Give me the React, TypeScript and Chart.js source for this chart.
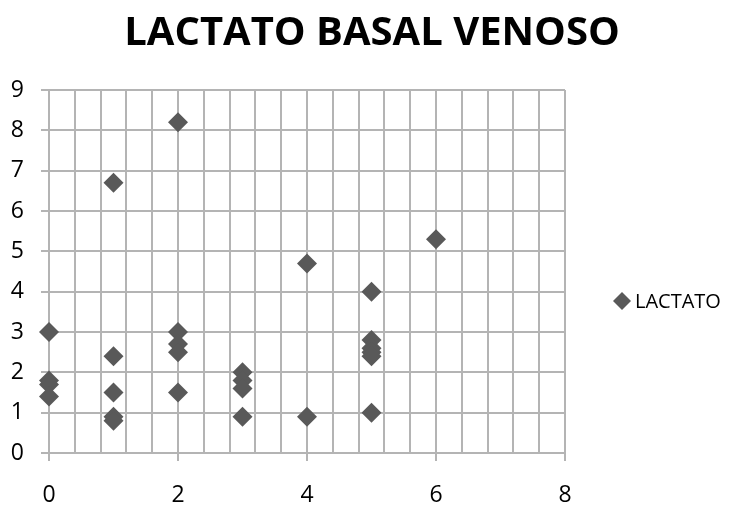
import React, { useEffect, useRef } from "react";
import { Chart, registerables } from "chart.js";

Chart.register(...registerables);

// Lactato basal venoso: one point per patient
const groupValues: number[] = [0, 0, 0, 0, 1, 1, 1, 1, 1, 2, 2, 2, 2, 2, 3, 3, 3, 3, 4, 4, 5, 5, 5, 5, 5, 5, 6];
const lactatoValues: number[] = [3.0, 1.8, 1.7, 1.4, 6.7, 2.4, 1.5, 0.9, 0.8, 8.2, 3.0, 2.7, 2.5, 1.5, 2.0, 1.8, 1.6, 0.9, 4.7, 0.9, 4.0, 2.8, 2.6, 2.5, 2.4, 1.0, 5.3];

const chartTitle = "LACTATO BASAL VENOSO";
const seriesName = "LACTATO";

const xMin = 0;
const xMax = 8;
const xGridStep = 0.4;
const xLabelStep = 2;
const yMin = 0;
const yMax = 9;
const yStep = 1;

const FONT = "'Open Sans', 'Liberation Sans', sans-serif";
const MARKER = "#595959";
const GRID = "#b4b4b4";

const isLabelled = (v: number) => Math.abs(v / xLabelStep - Math.round(v / xLabelStep)) < 1e-6;

function drawDiamond(ctx: CanvasRenderingContext2D, x: number, y: number, r: number) {
  ctx.beginPath();
  ctx.moveTo(x, y - r);
  ctx.lineTo(x + r, y);
  ctx.lineTo(x, y + r);
  ctx.lineTo(x - r, y);
  ctx.closePath();
  ctx.fill();
}

const decorations = {
  id: "decorations",
  afterDraw(chart: Chart) {
    const ctx = chart.ctx;
    ctx.save();
    // title
    ctx.fillStyle = "#000000";
    ctx.font = `bold 40px ${FONT}`;
    ctx.textAlign = "center";
    ctx.textBaseline = "alphabetic";
    ctx.fillText(chartTitle, 372, 45);
    // legend
    ctx.fillStyle = MARKER;
    drawDiamond(ctx, 622, 301, 9);
    ctx.fillStyle = "#000000";
    ctx.font = `20px ${FONT}`;
    ctx.textAlign = "left";
    ctx.fillText(seriesName, 635, 308);
    ctx.restore();
  },
};

export default function App() {
  const ref = useRef<HTMLCanvasElement | null>(null);

  useEffect(() => {
    if (!ref.current) return;
    const points = groupValues.map((x, i) => ({ x, y: lactatoValues[i] }));
    const chart = new Chart(ref.current, {
      type: "scatter",
      data: {
        datasets: [
          {
            label: seriesName,
            data: points,
            pointStyle: "rectRot",
            pointRadius: 10,
            pointHoverRadius: 10,
            backgroundColor: MARKER,
            borderColor: MARKER,
            borderWidth: 0,
            clip: false,
          },
        ],
      },
      options: {
        responsive: false,
        animation: false,
        events: [],
        layout: { padding: { top: 90, left: 0, right: 170, bottom: 0 } },
        plugins: {
          legend: { display: false },
          title: { display: false },
          tooltip: { enabled: false },
        },
        scales: {
          x: {
            type: "linear",
            min: xMin,
            max: xMax,
            afterFit(scale: any) {
              scale.height = 55;
            },
            ticks: {
              stepSize: xGridStep,
              autoSkip: false,
              maxRotation: 0,
              padding: 21,
              color: "#000000",
              font: { family: FONT, size: 23 },
              callback: (v: any) => (isLabelled(Number(v)) ? String(Math.round(Number(v))) : ""),
            },
            grid: {
              color: GRID,
              lineWidth: 2,
              tickLength: 8,
              tickColor: (c: any) => (c.tick && isLabelled(c.tick.value) ? GRID : "rgba(0,0,0,0)"),
            },
            border: { color: GRID, width: 2 },
          },
          y: {
            type: "linear",
            min: yMin,
            max: yMax,
            afterFit(scale: any) {
              scale.width = 49;
            },
            ticks: {
              stepSize: yStep,
              padding: 17,
              color: "#000000",
              font: { family: FONT, size: 23 },
            },
            grid: { color: GRID, lineWidth: 2, tickLength: 8, tickColor: GRID },
            border: { color: GRID, width: 2 },
          },
        },
      },
      plugins: [decorations],
    });
    return () => chart.destroy();
  }, []);

  return (
    <div style={{ position: "absolute", left: 0, top: 0, width: 735, height: 508, background: "#ffffff" }}>
      <canvas ref={ref} width={735} height={508} style={{ display: "block" }} />
    </div>
  );
}
